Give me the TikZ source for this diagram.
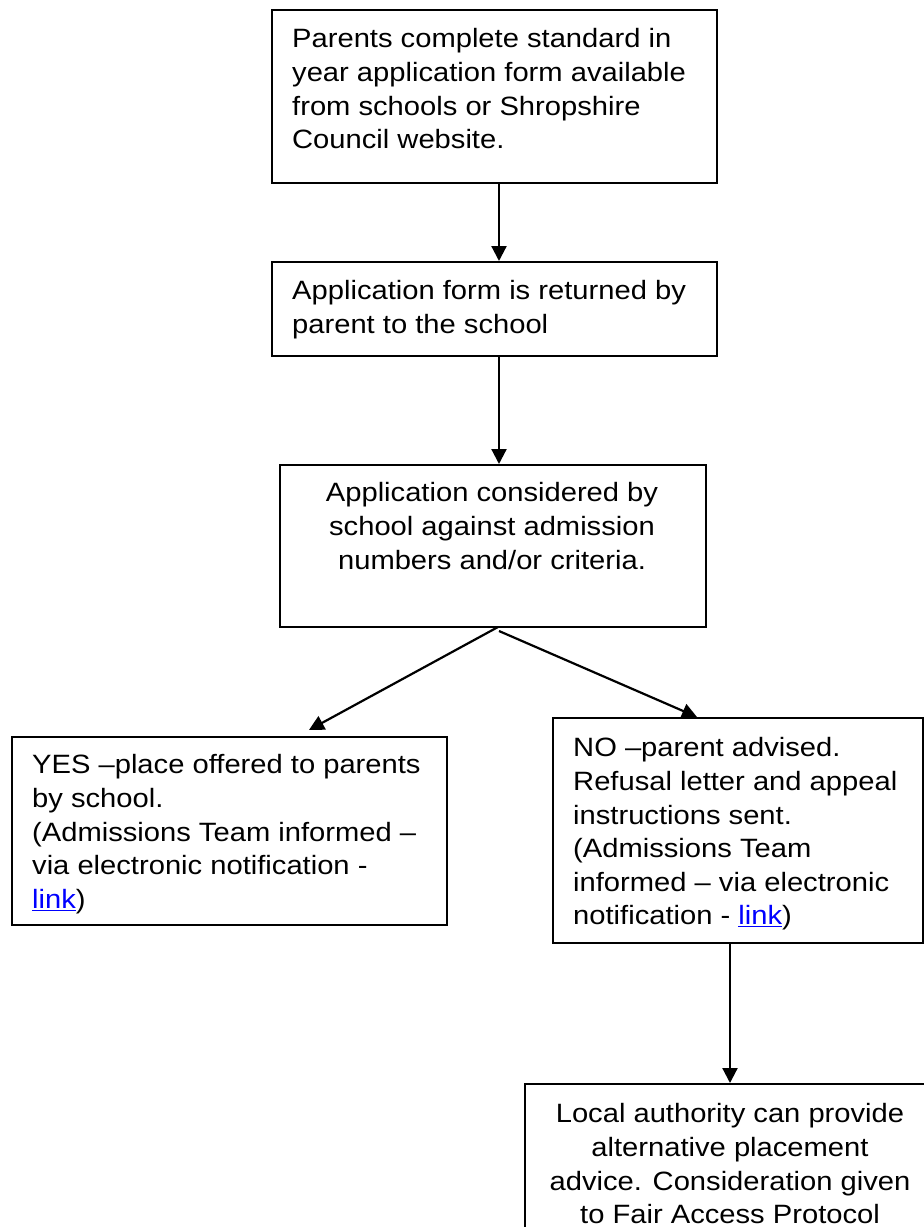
\documentclass[tikz,border=0pt]{standalone}
\usepackage{fontspec}
\setmainfont[FakeStretch=1.1]{Liberation Sans}
\usetikzlibrary{arrows.meta}
\definecolor{linkblue}{RGB}{0,0,255}
\begin{document}
\begin{tikzpicture}[x=1pt,y=-1pt,
  box/.style={draw, line width=1.8pt, inner sep=0pt, anchor=north west},
  txt/.style={inner sep=0pt, font=\fontsize{26.5}{33.6}\selectfont},
  arr/.style={line width=2.2pt, -{Triangle[length=15pt,width=15pt]}}]
\useasboundingbox (0,0) rectangle (924,1227);
\clip (0,0) rectangle (924,1227);
\fill[white] (0,0) rectangle (924,1227);
% boxes
\node[box, minimum width=445pt, minimum height=173pt] (b1) at (271,9) {};
\node[box, minimum width=445pt, minimum height=94pt] (b2) at (271,261) {};
\node[box, minimum width=426pt, minimum height=162pt] (b3) at (279,464) {};
\node[box, minimum width=435pt, minimum height=188pt] (b4) at (11,736) {};
\node[box, minimum width=370pt, minimum height=225pt] (b5) at (552,717) {};
\node[box, minimum width=412pt, minimum height=170pt] (b6) at (524,1083) {};
% texts
\node[txt, anchor=north west, align=left] (t1) at (292,28.5)
  {Parents complete standard in\\year application form available\\from schools or Shropshire\\Council website.};
\node[txt, anchor=north west, align=left] (t2) at (292,280.5)
  {Application form is returned by\\parent to the school};
\node[txt, anchor=north, align=center] (t3) at (492,482.5)
  {Application considered by\\school against admission\\numbers and/or criteria.};
\node[txt, anchor=north west, align=left] (t4) at (32,754.5)
  {YES –place offered to parents\\by school.\\(Admissions Team informed –\\via electronic notification -\\{\color{linkblue}\underline{link}})};
\node[txt, anchor=north west, align=left] (t5) at (573,737.5)
  {NO –parent advised.\\Refusal letter and appeal\\instructions sent.\\(Admissions Team\\informed – via electronic\\notification - {\color{linkblue}\underline{link}})};
\node[txt, anchor=north, align=center] (t6) at (730,1103.5)
  {Local authority can provide\\alternative placement\\advice. Consideration given\\to Fair Access Protocol};
% connector anchors
\coordinate (x12) at (499,0);
\coordinate (x56) at (730,0);
\coordinate (sL) at (498,627);
\coordinate (tipL) at (309,730);
\coordinate (sR) at (499,631);
\coordinate (xR) at (697,0);
% connectors
\draw[arr] (b1.south -| x12) -- (b2.north -| x12);
\draw[arr] (b2.south -| x12) -- (b3.north -| x12);
\draw[arr] (sL) -- (tipL);
\draw[arr] (sR) -- (b5.north -| xR);
\draw[arr] (b5.south -| x56) -- (b6.north -| x56);
\end{tikzpicture}
\end{document}
